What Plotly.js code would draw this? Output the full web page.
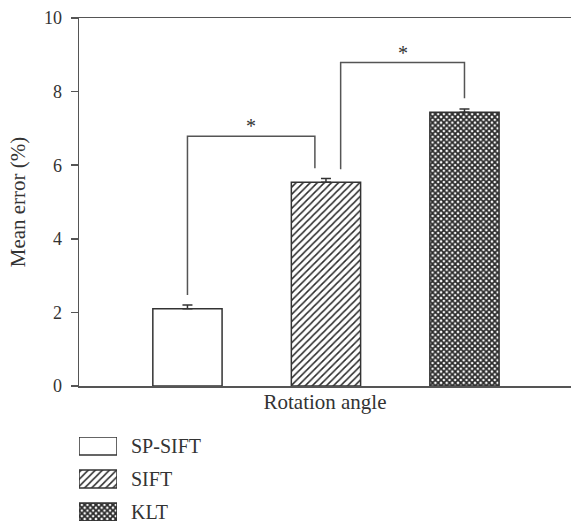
<!DOCTYPE html>
<html>
<head>
<meta charset="utf-8">
<script src="https://cdn.plot.ly/plotly-3.0.1.min.js"></script>
<style>html,body{margin:0;padding:0;background:#fff;}#chart{width:571px;height:523px;}</style>
</head>
<body>
<div id="chart"></div>
<script>
// ---- data ----
var methods = ['SP-SIFT', 'SIFT', 'KLT'];
var meanError = [2.1, 5.54, 7.44];
var errorUp = [0.1, 0.1, 0.09];
var patterns = ['', '/', 'x'];
var xTitle = 'Rotation angle';
var yTitle = 'Mean error (%)';
var yTicks = [0, 2, 4, 6, 8, 10];
// significance brackets
var bracketFrom = [0, 1.106];
var bracketTo = [0.92, 2.0];
var bracketTop = [6.79, 8.79];
var bracketLeftBottom = [2.47, 5.89];
var bracketRightBottom = [5.92, 7.82];
var bracketLabel = ['*', '*'];

var ink = '#333333';
var axisInk = '#555555';
var serif = 'Liberation Serif, Times New Roman, serif';
var patSize = [5, 5, 4];
var patSolidity = [0.3, 0.3, 0.7];

function barMarker() {
  return {
    color: '#ffffff',
    line: {color: ink, width: 1.5},
    pattern: {shape: patterns, fgcolor: '#2a2a2a', bgcolor: '#ffffff', size: patSize, solidity: patSolidity}
  };
}

var traces = [
  {
    type: 'bar',
    x: methods,
    y: meanError,
    width: 0.5,
    marker: barMarker(),
    error_y: {type: 'data', symmetric: false, array: errorUp, arrayminus: [0, 0, 0],
              color: ink, thickness: 1.5, width: 5},
    showlegend: false,
    hoverinfo: 'skip'
  },
  // legend swatches
  {
    type: 'bar',
    orientation: 'h',
    y: [0, 1, 2],
    x: [1, 1, 1],
    width: 18 / 33,
    xaxis: 'x2',
    yaxis: 'y2',
    marker: barMarker(),
    showlegend: false,
    hoverinfo: 'skip'
  }
];

var shapes = [];
var annotations = [];
for (var i = 0; i < bracketFrom.length; i++) {
  var x0 = bracketFrom[i], x1 = bracketTo[i];
  shapes.push({
    type: 'path', xref: 'x', yref: 'y',
    path: 'M' + x0 + ',' + bracketLeftBottom[i] + ' L' + x0 + ',' + bracketTop[i] +
          ' L' + x1 + ',' + bracketTop[i] + ' L' + x1 + ',' + bracketRightBottom[i],
    line: {color: axisInk, width: 1.5}
  });
  annotations.push({
    xref: 'x', yref: 'y', x: (x0 + x1) / 2, y: bracketTop[i],
    yanchor: 'bottom', yshift: -3, showarrow: false,
    text: bracketLabel[i], font: {family: serif, size: 20, color: ink}
  });
}
for (var j = 0; j < methods.length; j++) {
  annotations.push({
    xref: 'paper', yref: 'y2', x: 50 / 492, y: j, xanchor: 'left', yanchor: 'middle',
    showarrow: false, text: methods[j], font: {family: serif, size: 20, color: ink}
  });
}

var layout = {
  width: 571, height: 523,
  margin: {l: 79, r: 0, t: 18, b: 0, pad: 0},
  paper_bgcolor: '#ffffff', plot_bgcolor: '#ffffff',
  font: {family: serif, size: 18, color: ink},
  xaxis: {
    type: 'category', range: [-0.783, 2.769], showticklabels: false, ticks: '',
    showline: true, mirror: true, linecolor: axisInk, linewidth: 1.5,
    showgrid: false, zeroline: false, domain: [0, 1], anchor: 'y',
    title: {text: xTitle, font: {family: serif, size: 21, color: ink}, standoff: 8}
  },
  yaxis: {
    range: [0, 10], tickvals: yTicks, ticks: 'outside', ticklen: 7, tickwidth: 1.5,
    tickcolor: axisInk, showline: true, linecolor: axisInk, linewidth: 1.5,
    showgrid: false, zeroline: false, domain: [137 / 505, 1], anchor: 'x',
    ticklabelstandoff: 5,
    tickfont: {family: serif, size: 18, color: ink},
    title: {text: yTitle, font: {family: serif, size: 21, color: ink}, standoff: 12}
  },
  xaxis2: {
    domain: [0, 38 / 492], range: [0, 1], visible: false, anchor: 'y2', fixedrange: true
  },
  yaxis2: {
    domain: [2 / 505, 86 / 505], range: [2 + 9 / 33, -9 / 33], visible: false, anchor: 'x2', fixedrange: true
  },
  shapes: shapes,
  annotations: annotations,
  showlegend: false,
  bargap: 0
};

Plotly.newPlot('chart', traces, layout, {displayModeBar: false, staticPlot: true});
</script>
</body>
</html>
